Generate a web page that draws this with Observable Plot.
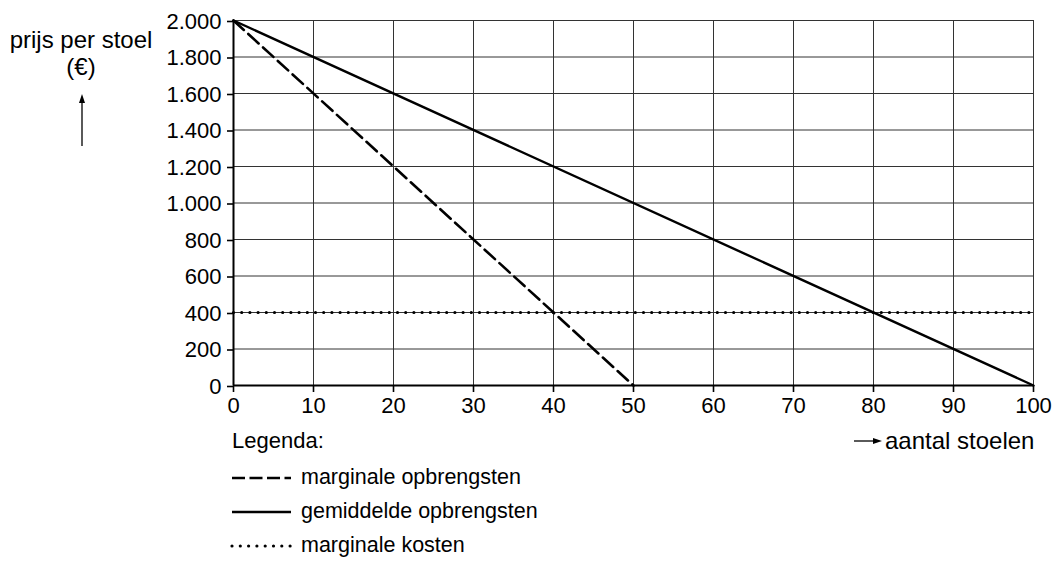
<!DOCTYPE html>
<html>
<head>
<meta charset="utf-8">
<script src="https://cdn.jsdelivr.net/npm/d3@7"></script>
<script src="https://cdn.jsdelivr.net/npm/@observablehq/plot@0.6"></script>
<style>
  html, body { margin: 0; padding: 0; background: #fff; }
  body { font-family: "Liberation Sans", Arial, sans-serif; color: #000; }
  #wrap { position: relative; width: 1058px; height: 564px; overflow: hidden; }
  #chart { position: absolute; left: 0; top: 0; }
  .lab { position: absolute; font-size: 23px; line-height: 1; white-space: nowrap; }
  .legrow { position: absolute; left: 229px; display: flex; align-items: center; font-size: 21.5px; line-height: 1; }
  .legrow svg { margin-right: 8px; }
</style>
</head>
<body>
<div id="wrap">
  <div id="chart"></div>
  <div class="lab" style="left:0px; top:28px; width:162px; height:26px; text-align:center; font-size:24px;">prijs per stoel</div>
  <div class="lab" style="left:0px; top:55px; width:162px; height:26px; text-align:center; font-size:24px;">(€)</div>
  <svg style="position:absolute; left:72px; top:92px" width="20" height="56">
    <line x1="10" y1="54" x2="10" y2="6" stroke="#000" stroke-width="1.3"/>
    <path d="M10,2 L7,11 L13,11 Z" fill="#000"/>
  </svg>
  <div class="lab" style="left:232px; top:430px; font-size:22px;">Legenda:</div>
  <svg style="position:absolute; left:852px; top:431px" width="32" height="20">
    <line x1="2" y1="10" x2="26" y2="10" stroke="#000" stroke-width="1.3"/>
    <path d="M30,10 L21,7 L21,13 Z" fill="#000"/>
  </svg>
  <div class="lab" style="left:885px; top:429px; font-size:24px;">aantal stoelen</div>
  <div id="legend"></div>
</div>
<script>
// ---- data ----
const xTicks = [0, 10, 20, 30, 40, 50, 60, 70, 80, 90, 100];
const yTicks = [0, 200, 400, 600, 800, 1000, 1200, 1400, 1600, 1800, 2000];

const mrQ = [0, 50];        // marginale opbrengsten
const mrP = [2000, 0];
const arQ = [0, 100];       // gemiddelde opbrengsten
const arP = [2000, 0];
const mcQ = [0, 99.5];      // marginale kosten
const mcP = [400, 400];

const seriesNames = ["marginale opbrengsten", "gemiddelde opbrengsten", "marginale kosten"];

// ---- build ----
const toRows = (qs, ps) => qs.map((q, i) => ({q, p: ps[i]}));
const mr = toRows(mrQ, mrP), ar = toRows(arQ, arP), mc = toRows(mcQ, mcP);

const nl = d3.formatLocale({decimal: ",", thousands: ".", grouping: [3], currency: ["€", ""]});
const fmt = nl.format(",");

const dashStyles = [
  {dash: "14,6", legendDash: "13,4.5", width: 2.6, cap: "butt"},
  {dash: null, legendDash: null, width: 2.4, cap: "butt"},
  {dash: "0,8.2", legendDash: "0,8.3", width: 3.2, cap: "round"}
];

const chart = Plot.plot({
  width: 1058,
  height: 410,
  marginLeft: 233,
  marginRight: 25,
  marginTop: 20,
  marginBottom: 25,
  style: {fontFamily: "'Liberation Sans', Arial, sans-serif", fontSize: "22px", color: "#000", background: "#fff", overflow: "visible"},
  x: {domain: [0, 100], label: null},
  y: {domain: [0, 2000], label: null},
  marks: [
    Plot.gridX(xTicks, {stroke: "#333", strokeOpacity: 1, strokeWidth: 1}),
    Plot.gridY(yTicks, {stroke: "#333", strokeOpacity: 1, strokeWidth: 1}),
    Plot.axisX({ticks: xTicks, tickSize: 7, tickPadding: 5, label: null, strokeWidth: 1.6, fontSize: 22}),
    Plot.axisY({ticks: yTicks, tickSize: 6, tickPadding: 6, tickFormat: fmt, label: null, strokeWidth: 1.6, fontSize: 22, dy: 1}),
    Plot.ruleX([0], {stroke: "#000", strokeWidth: 2}),
    Plot.ruleY([0], {stroke: "#000", strokeWidth: 2}),
    Plot.line(mc, {x: "q", y: "p", stroke: "#000", strokeWidth: dashStyles[2].width, strokeDasharray: dashStyles[2].dash, strokeLinecap: "round"}),
    Plot.line(ar, {x: "q", y: "p", stroke: "#000", strokeWidth: dashStyles[1].width}),
    Plot.line(mr, {x: "q", y: "p", stroke: "#000", strokeWidth: dashStyles[0].width, strokeDasharray: dashStyles[0].dash})
  ]
});
document.getElementById("chart").appendChild(chart);

// ---- legend ----
const legend = document.getElementById("legend");
const rowTops = [466, 500, 534];
seriesNames.forEach((name, i) => {
  const s = dashStyles[i];
  const row = document.createElement("div");
  row.className = "legrow";
  row.style.top = rowTops[i] + "px";
  row.innerHTML = `<svg width="64" height="24"><line x1="3" y1="12" x2="62" y2="12" stroke="#000" stroke-width="${s.width}" ${s.legendDash ? `stroke-dasharray="${s.legendDash}"` : ""} stroke-linecap="${s.cap}"/></svg><span>${name}</span>`;
  legend.appendChild(row);
});
</script>
</body>
</html>
